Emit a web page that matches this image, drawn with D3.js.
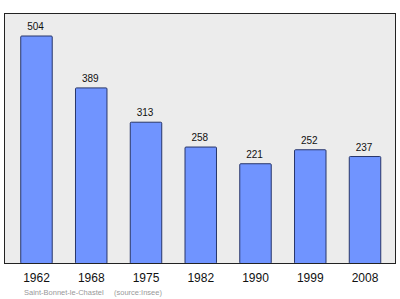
<!DOCTYPE html>
<html>
<head>
<meta charset="utf-8">
<script src="https://cdn.jsdelivr.net/npm/d3@7"></script>
<style>
  body { margin: 0; background: #fff; }
  svg { display: block; font-family: "Liberation Sans", Arial, sans-serif; }
</style>
</head>
<body>
<div id="chart"></div>
<script>
const years = ['1962', '1968', '1975', '1982', '1990', '1999', '2008']
const population = [504, 389, 313, 258, 221, 252, 237]
const place = 'Saint-Bonnet-le-Chastel'
const source = '(source:Insee)'

const W = 400, H = 299
const frame = { left: 4.5, top: 13.5, right: 395.5, bottom: 263.5 }

const svg = d3.select('#chart')
    .append('svg')
    .attr('width', W)
    .attr('height', H)

// grey plotting area
svg.append('rect')
    .attr('x', frame.left)
    .attr('y', frame.top)
    .attr('width', frame.right - frame.left)
    .attr('height', frame.bottom - frame.top)
    .style('fill', '#ececec')
    .style('stroke', '#222')
    .style('stroke-width', 1)

const xS = d3.scaleBand()
    .domain(years)
    .range([9.1, 392.4])
    .paddingInner(0.425)
    .paddingOuter(0.2125)

const yS = d3.scaleLinear()
    .domain([0, 504])
    .range([frame.bottom, 36])

svg.selectAll('rect.bar')
    .data(population)
    .enter()
    .append('rect')
    .classed('bar', true)
    .attr('x', (_, i) => xS(years[i]))
    .attr('y', d => yS(d))
    .attr('width', xS.bandwidth())
    .attr('height', d => frame.bottom - yS(d))
    .attr('rx', 1)
    .style('fill', '#7094ff')
    .style('stroke', '#28366a')
    .style('stroke-width', 1)

svg.selectAll('text.val')
    .data(population)
    .enter()
    .append('text')
    .classed('val', true)
    .attr('x', (_, i) => xS(years[i]) + xS.bandwidth() / 2 - 1)
    .attr('y', d => yS(d) - 6)
    .attr('text-anchor', 'middle')
    .style('font-size', '10px')
    .style('fill', '#111')
    .text(d => d)

// bottom edge redrawn over bars
svg.append('line')
    .attr('x1', frame.left)
    .attr('x2', frame.right)
    .attr('y1', frame.bottom)
    .attr('y2', frame.bottom)
    .style('stroke', '#222')

svg.append('g')
    .attr('transform', 'translate(0, ' + frame.bottom + ')')
    .call(
        d3.axisBottom(xS)
            .tickSize(0)
            .tickPadding(10)
    )
    .call(g => g.select('.domain').remove())
    .selectAll('text')
    .style('font-family', '"Liberation Sans", Arial, sans-serif')
    .style('font-size', '12px')
    .style('fill', '#111')

svg.append('text')
    .attr('x', 24)
    .attr('y', 295)
    .style('font-size', '7.5px')
    .style('fill', '#999')
    .text(place)

svg.append('text')
    .attr('x', 114)
    .attr('y', 295)
    .style('font-size', '7.5px')
    .style('fill', '#999')
    .text(source)
</script>
</body>
</html>
